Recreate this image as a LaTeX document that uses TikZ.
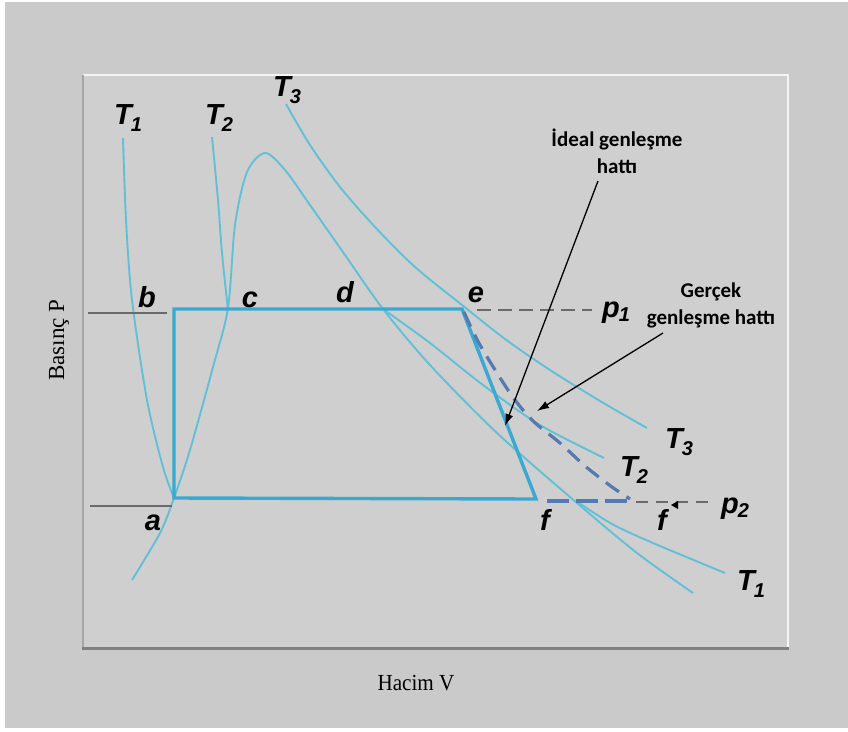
\documentclass[tikz,border=0pt]{standalone}
\usepackage{fontspec}
\setmainfont{Liberation Serif}
\setsansfont{Liberation Sans}
\newfontfamily\calfont{Carlito}
\usetikzlibrary{arrows.meta}
\definecolor{bgout}{HTML}{CACACA}
\definecolor{panelc}{HTML}{CFCFCF}
\definecolor{isoc}{HTML}{62C0D6}
\definecolor{cycc}{HTML}{3AA8D2}
\definecolor{realc}{HTML}{5679B0}
\definecolor{grayln}{HTML}{6A6A6A}
\newcommand{\Tsub}[2]{#1\kern-1pt\raisebox{-7pt}{\fontsize{20}{20}\selectfont #2}}
\begin{document}
\begin{tikzpicture}[x=1pt,y=-1pt,
  isoline/.style={isoc, line width=1.9pt},
  cycline/.style={cycc, line width=3.4pt, line join=miter},
  realline/.style={realc, line width=3.2pt, dash pattern=on 16pt off 9pt},
  pgray/.style={grayln, line width=2.5pt},
  pgraydash/.style={grayln, line width=2.5pt, dash pattern=on 14pt off 7pt},
  lbl/.style={font=\fontsize{29}{29}\selectfont\sffamily\bfseries\itshape, inner sep=0pt},
  note/.style={font=\fontsize{21}{27}\selectfont\calfont\bfseries, align=center, inner sep=0pt},
  axlbl/.style={font=\fontsize{23}{23}\selectfont, inner sep=0pt},
  pointer/.style={black, line width=1.3pt, -{Latex[length=12pt,width=8pt]}}]
\useasboundingbox (0,0) rectangle (848,731);
% backgrounds
\fill[white] (0,0) rectangle (848,731);
\fill[bgout] (5,2) rectangle (848,728);
\fill[panelc] (83,75) rectangle (788,648);
\draw[white!92!gray, line width=1.5pt] (83,75) -- (788,75) -- (788,648);
\draw[black!35, line width=1.2pt] (83,75) -- (83,648);
\draw[black!50, line width=3pt] (82,648) -- (789,648);
% isotherms and dome
\draw[isoline] plot[smooth] coordinates {(123,138) (126,220) (132,300) (147,400) (163,467) (174,498)};
\draw[isoline] plot[smooth] coordinates {(212,137) (218,200) (222,253) (228,310)};
\draw[isoline] plot[smooth] coordinates {(132,580) (160,533) (174,498) (190,450) (213,367) (228,308) (235,225) (247,172) (265,153) (285,170) (310,205) (345,255) (383,309) (430,365) (497,433) (577,503) (637,553) (693,593)};
\draw[isoline] plot[smooth] coordinates {(286,104) (310,145) (340,187) (375,227) (415,267) (462,305) (505,339) (550,370) (600,401) (647,428)};
\draw[isoline] plot[smooth] coordinates {(383,309) (430,343) (483,385) (540,425) (604,458)};
\draw[isoline] plot[smooth] coordinates {(576,501) (612,524) (653,543) (725,573)};
% pressure lines
\draw[pgray] (88,313) -- (167,313);
\draw[pgray] (90,506) -- (172,506);
\draw[pgraydash] (477,310) -- (592,310);
\draw[grayln, line width=2.2pt, dash pattern=on 12pt off 8pt] (636,502) -- (710,502);
\draw[realc, line width=3.2pt, dash pattern=on 22pt off 7pt] (547,501) -- (632,501);
% cycle
\draw[cycline] (174,498) -- (174,309) -- (462,309) -- (536,499) -- cycle;
% real expansion
\draw[realline] plot[smooth] coordinates {(464,312) (480,345) (510,393) (532,420) (560,443) (585,466) (612,487) (630,499)};
% small mark
\fill[black] (671,505) -- (678,501) -- (678,509) -- cycle;
% labels
\node[lbl] (lT1a) at (128,118) {\Tsub{T}{1}};
\node[lbl] (lT2a) at (219,118) {\Tsub{T}{2}};
\node[lbl] (lT3a) at (287,90) {\Tsub{T}{3}};
\node[lbl] (lb) at (147,297) {b};
\node[lbl] (lc) at (250,300) {c};
\node[lbl] (ld) at (345,292) {d};
\node[lbl] (le) at (476,295) {e};
\node[lbl] (lp1) at (616,313) {p\kern-1pt\raisebox{-4pt}{\fontsize{20}{20}\selectfont 1}};
\node[lbl] (la) at (153,523) {a};
\node[lbl] (lf) at (545,520) {f};
\node[lbl] (lf2) at (662,520) {f};
\node[lbl] (lp2) at (735,509) {p\kern-1pt\raisebox{-4pt}{\fontsize{20}{20}\selectfont 2}};
\node[lbl] (lT3b) at (679,442) {\Tsub{T}{3}};
\node[lbl] (lT2b) at (634,470) {\Tsub{T}{2}};
\node[lbl] (lT1b) at (751,584) {\Tsub{T}{1}};
% notes
\node[note] (ideal) at (617,151) {İdeal genleşme\\hattı};
\node[note] (real) at (711,305) {Gerçek\\genleşme hattı};
\coordinate (ia) at (598,181);
\coordinate (ib) at (505,426);
\coordinate (ra) at (663,333);
\coordinate (rb) at (537,411);
\draw[pointer] (ia) -- (ib);
\draw[pointer] (ra) -- (rb);
% axes labels
\node[axlbl, rotate=90] (ylab) at (59,340) {Basınç P};
\node[axlbl] (xlab) at (416,683) {\scalebox{0.92}[1]{Hacim V}};
\end{tikzpicture}
\end{document}
